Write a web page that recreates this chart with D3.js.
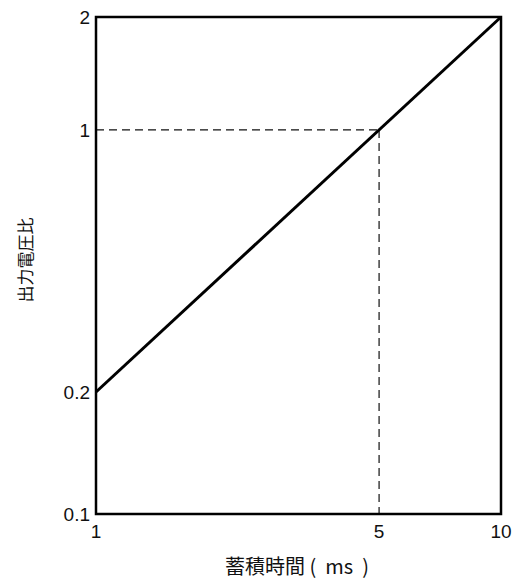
<!DOCTYPE html>
<html>
<head>
<meta charset="utf-8">
<script src="https://cdn.jsdelivr.net/npm/d3@7"></script>
<style>
  body { margin: 0; background: #fff; }
  .num { font-family: "Liberation Sans", Arimo, Arial, sans-serif; fill: #111; }
  .cjk { font-family: "Noto Sans CJK JP", sans-serif; fill: #111; }
</style>
</head>
<body>
<svg id="chart" width="520" height="581"></svg>
<script>
// values
const xTicks = [1, 5, 10];
const yTicks = [0.1, 0.2, 1, 2];
const lineX = [1, 10];
const lineY = [0.2, 2];
const refX = 5;
const refY = 1;

const svg = d3.select("#chart");
const plotLeft = 96, plotRight = 501, plotTop = 17, plotBottom = 514;

let x = d3.scaleLog().domain([1, 10]).range([plotLeft, plotRight]);
// the original axis is drawn a little stretched below 0.2
let y = d3.scaleLog().domain([0.1, 0.2, 2]).range([plotBottom, 392, plotTop]);

//dashed guide lines
svg.append("line")
    .attr("x1", x(1)).attr("x2", x(refX))
    .attr("y1", y(refY)).attr("y2", y(refY))
    .attr("stroke", "#111").attr("stroke-width", 1.2)
    .attr("stroke-dasharray", "8,5");
svg.append("line")
    .attr("x1", x(refX)).attr("x2", x(refX))
    .attr("y1", y(refY)).attr("y2", y(0.1))
    .attr("stroke", "#111").attr("stroke-width", 1.2)
    .attr("stroke-dasharray", "8,5");

// main line
let pts = lineX.map((d, i) => [x(d), y(lineY[i])]);
svg.append("path")
    .attr("d", d3.line()(pts))
    .attr("fill", "none").attr("stroke", "#000").attr("stroke-width", 3);

// frame
svg.append("rect")
    .attr("x", plotLeft).attr("y", plotTop)
    .attr("width", plotRight - plotLeft).attr("height", plotBottom - plotTop)
    .attr("fill", "none").attr("stroke", "#000").attr("stroke-width", 2.5);

// tick labels
svg.selectAll(".xt").data(xTicks).enter().append("text")
    .attr("class", "num")
    .attr("x", d => x(d)).attr("y", plotBottom + 24)
    .attr("text-anchor", "middle").style("font-size", "19px")
    .text(d => d);

svg.selectAll(".yt").data(yTicks).enter().append("text")
    .attr("class", "num")
    .attr("x", plotLeft - 6).attr("y", d => y(d) + 7)
    .attr("text-anchor", "end").style("font-size", "19px")
    .text(d => d);

// axis titles
svg.append("text").attr("class", "cjk")
    .attr("x", 297).attr("y", 574)
    .attr("text-anchor", "middle").style("font-size", "20px")
    .attr("xml:space", "preserve")
    .text("蓄積時間 (  ms  )");

svg.append("text").attr("class", "cjk")
    .attr("transform", "translate(32,260) rotate(-90)")
    .attr("text-anchor", "middle").style("font-size", "17px")
    .text("出力電圧比");
</script>
</body>
</html>
